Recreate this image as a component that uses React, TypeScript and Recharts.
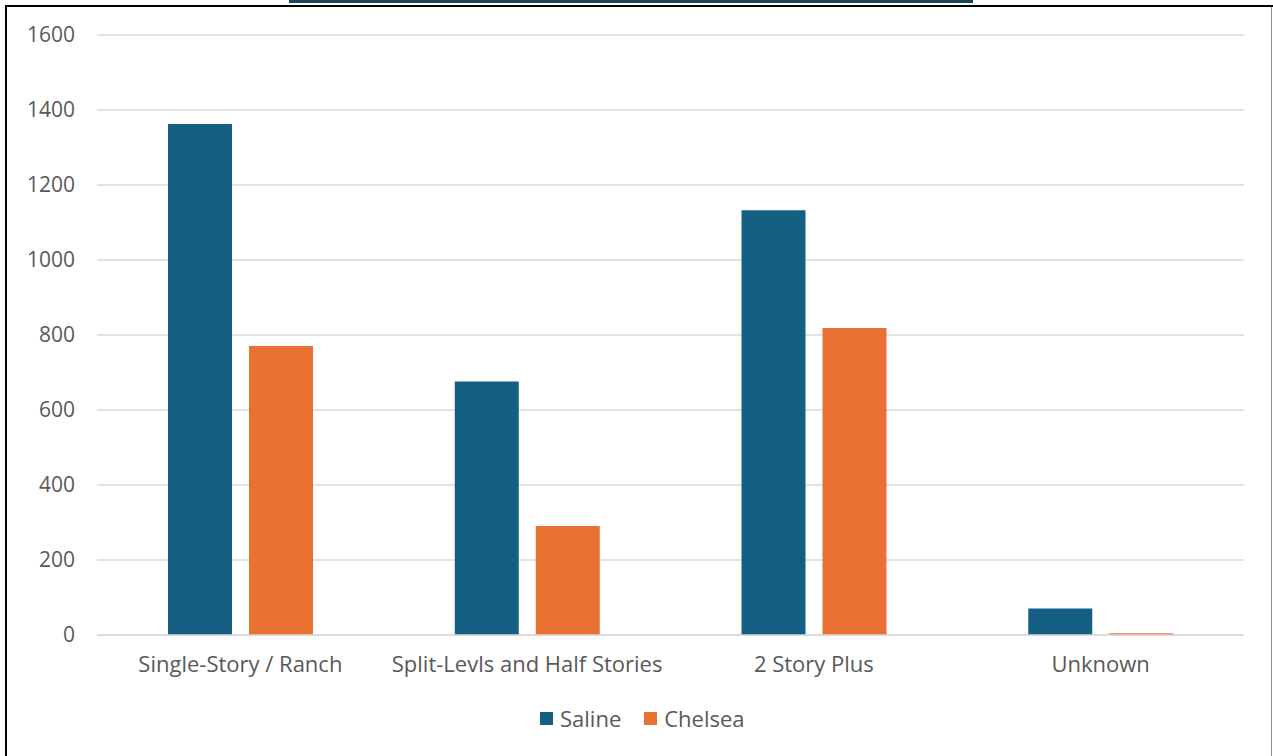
import React from 'react';
import { BarChart, Bar, XAxis, YAxis, CartesianGrid, Legend } from 'recharts';

const categories = ['Single-Story / Ranch', 'Split-Levls and Half Stories', '2 Story Plus', 'Unknown'];
const saline = [1363, 676, 1133, 71];
const chelsea = [771, 291, 819, 5];
const yTicks = [0, 200, 400, 600, 800, 1000, 1200, 1400, 1600];

const SALINE = '#156082';
const CHELSEA = '#E97132';
const LABEL = '#595959';
const GRID = '#d9d9d9';

const data = categories.map((name, i) => ({ name, Saline: saline[i], Chelsea: chelsea[i] }));

const LegendBox: React.FC = () => (
  <div style={{ display: 'flex', alignItems: 'center', paddingTop: 11, marginLeft: 540, fontSize: 22, color: LABEL, lineHeight: '24px' }}>
    {[['Saline', SALINE], ['Chelsea', CHELSEA]].map(([label, color]) => (
      <div key={label} style={{ display: 'flex', alignItems: 'center', marginRight: 23 }}>
        <span style={{ width: 13, height: 13, background: color, display: 'inline-block', marginRight: 7 }} />
        <span>{label}</span>
      </div>
    ))}
  </div>
);

const App: React.FC = () => {
  return (
    <div style={{ position: 'absolute', left: 0, top: 0, width: 1273, height: 756, background: '#fff', fontFamily: '"Open Sans", sans-serif', overflow: 'hidden' }}>
      {/* title underline, the heading itself sits above the frame */}
      <div style={{ position: 'absolute', left: 289, top: 0, width: 684, height: 3, background: '#17475b' }} />
      <div style={{ position: 'absolute', left: 5, top: 5, width: 1268, height: 2, background: '#000' }} />
      <div style={{ position: 'absolute', left: 5, top: 5, width: 2, height: 751, background: '#000' }} />
      <div style={{ position: 'absolute', left: 1271, top: 7, width: 1, height: 749, background: '#8c8c8c' }} />
      <div style={{ position: 'absolute', left: 0, top: 0 }}>
        <BarChart width={1273} height={756} data={data} margin={{ top: 35, right: 29, left: 0, bottom: 0 }} barSize={64} barGap={17}>
          <CartesianGrid vertical={false} stroke={GRID} strokeWidth={1.5} />
          <XAxis
            dataKey="name"
            height={60}
            tickSize={0}
            tickMargin={21}
            axisLine={{ stroke: GRID, strokeWidth: 1.5 }}
            tickLine={false}
            tick={{ fill: LABEL, fontSize: 22 }}
            interval={0}
          />
          <YAxis
            width={97}
            domain={[0, 1600]}
            ticks={yTicks}
            tickSize={0}
            tickMargin={22}
            axisLine={false}
            tickLine={false}
            tick={{ fill: LABEL, fontSize: 21 }}
          />
          <Legend verticalAlign="bottom" wrapperStyle={{ height: 61 }} content={() => <LegendBox />} />
          <Bar dataKey="Saline" fill={SALINE} isAnimationActive={false} />
          <Bar dataKey="Chelsea" fill={CHELSEA} isAnimationActive={false} />
        </BarChart>
      </div>
    </div>
  );
};

export default App;
